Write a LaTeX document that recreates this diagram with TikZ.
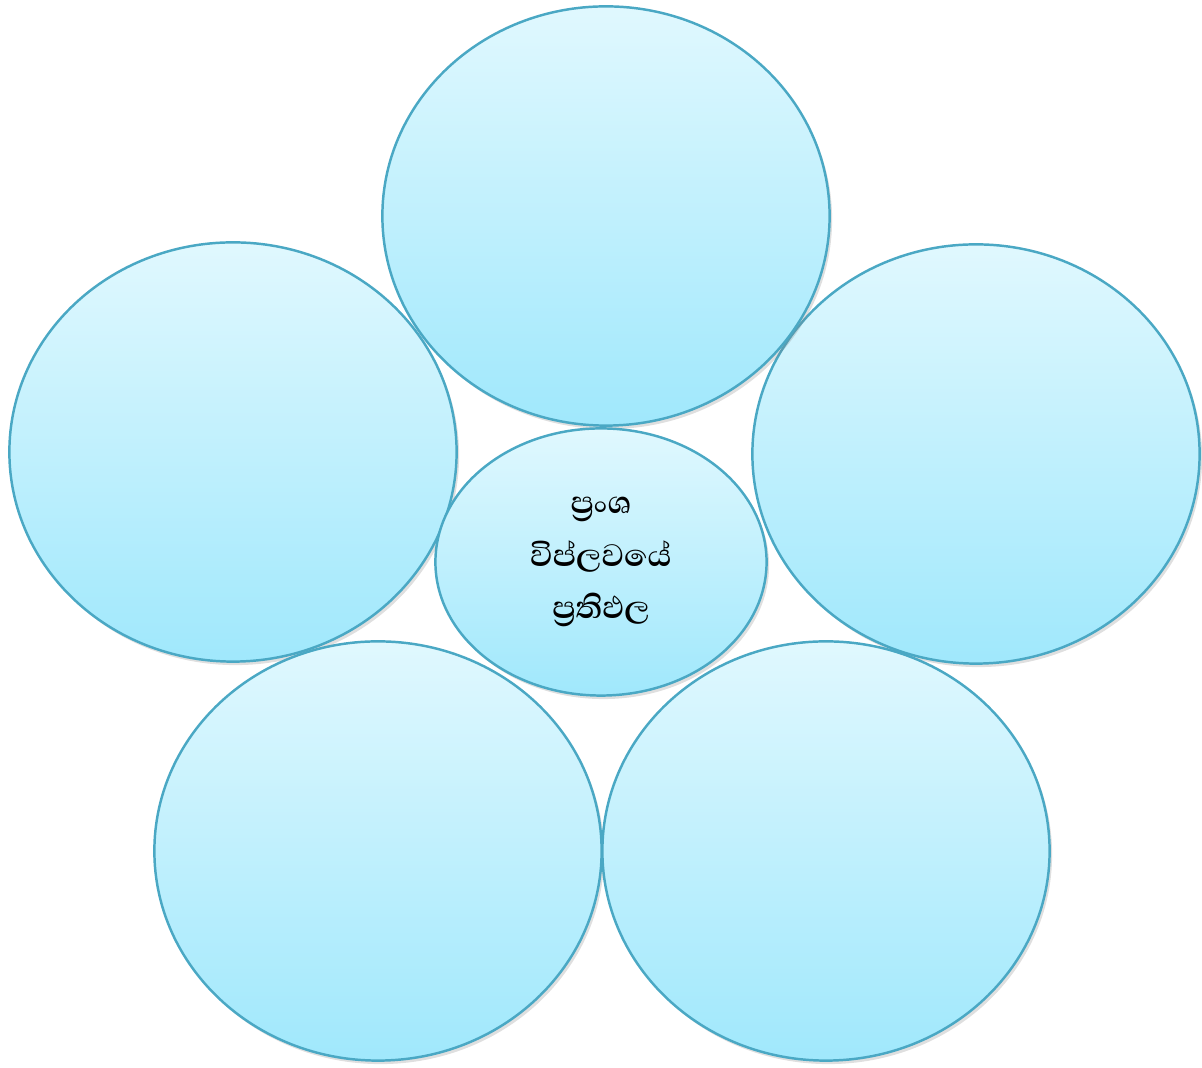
\documentclass[tikz,border=0pt]{standalone}
\usepackage{fontspec}
\usepackage{xcolor}
\usepackage{tikz}
\usetikzlibrary{shapes.geometric, shadows}
\newfontfamily\sinhalafont[Script=Sinhala]{Abhaya Libre}
\definecolor{petaltop}{HTML}{E0F8FE}
\definecolor{petalbot}{HTML}{A0E8FC}
\definecolor{petalline}{HTML}{4AA8C4}

\begin{document}
\begin{tikzpicture}[x=0.01cm, y=-0.01cm,
  petal/.style={ellipse, draw=petalline, line width=0.7pt, top color=petaltop,
                bottom color=petalbot, inner sep=0pt,
                minimum width=4.47cm, minimum height=4.19cm,
                drop shadow={shadow xshift=0.025cm, shadow yshift=-0.035cm,
                             opacity=0.25}},
  hub/.style={petal, minimum width=3.31cm, minimum height=2.67cm,
              align=center, font=\sinhalafont\bfseries\fontsize{11.3}{15}\selectfont}
]
\useasboundingbox (0,0) rectangle (1202,1068);

\node[petal] (left) at (233,452) {};
\node[petal] (right) at (976,454) {};
\node[petal] (top) at (606,216) {};
\node[petal] (botleft) at (378,851) {};
\node[petal] (botright) at (826,851) {};

\node[hub] (result) at (601,562)
  {ප්^^^^200dරංශ\\විප්ලවයේ\\ප්^^^^200dරතිඵල};

\end{tikzpicture}
\end{document}
